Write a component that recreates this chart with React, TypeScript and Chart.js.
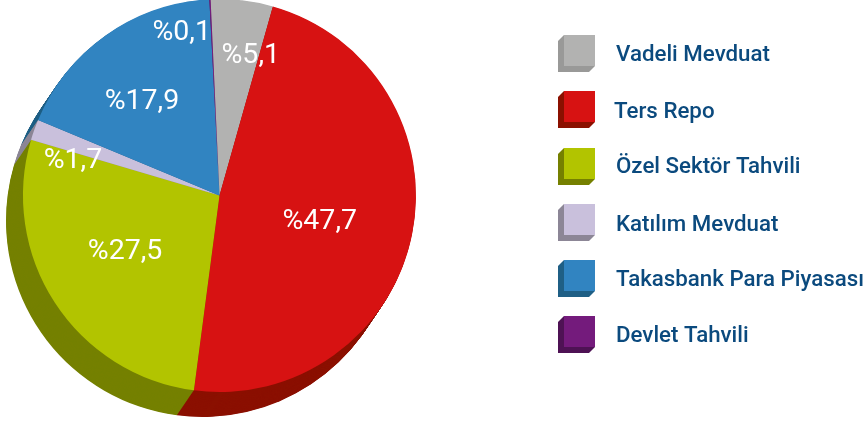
import React, { useEffect, useRef } from "react";
import { Chart, registerables } from "chart.js";

Chart.register(...registerables);

const categories = ["Vadeli Mevduat", "Ters Repo", "Özel Sektör Tahvili", "Katılım Mevduat", "Takasbank Para Piyasası", "Devlet Tahvili"];
const values = [5.1, 47.7, 27.5, 1.7, 17.9, 0.1];
const valueLabels = ["%5,1", "%47,7", "%27,5", "%1,7", "%17,9", "%0,1"];
const faceColors = ["#B2B2B1", "#D71212", "#B2C400", "#C9C0DC", "#3184C1", "#741B7C"];
const sideColors = ["#999998", "#8B1000", "#758000", "#8C8696", "#1F5F85", "#4E1254"];

// label nudges from each slice's centre point, in px
const labelNudges = [[20, -42], [4, 7], [-12, 3], [-54, -2], [-21, -13], [-33, -64]];
const legendTextX = [616, 614, 616, 616, 616, 616];
const legendTextY = [55, 112, 167, 225, 280, 336];
const legendBoxY = [35, 91, 148, 204, 260, 316];

const DEPTH_X = -17;
const DEPTH_Y = 25;

const extrude = {
  id: "extrude",
  beforeDatasetsDraw(chart: any) {
    const ctx = chart.ctx;
    const arcs = chart.getDatasetMeta(0).data;
    const steps = 40;
    for (let s = steps; s >= 1; s--) {
      const dx = (DEPTH_X * s) / steps;
      const dy = (DEPTH_Y * s) / steps;
      arcs.forEach((a: any, i: number) => {
        const p = a.getProps(["x", "y", "startAngle", "endAngle", "outerRadius"], true);
        ctx.beginPath();
        ctx.moveTo(p.x + dx, p.y + dy);
        ctx.arc(p.x + dx, p.y + dy, p.outerRadius, p.startAngle, p.endAngle);
        ctx.closePath();
        ctx.fillStyle = sideColors[i];
        ctx.fill();
      });
    }
  },
};

const overlay = {
  id: "overlay",
  afterDatasetsDraw(chart: any) {
    const ctx = chart.ctx;
    const arcs = chart.getDatasetMeta(0).data;
    ctx.save();
    ctx.textBaseline = "middle";
    ctx.textAlign = "center";
    ctx.fillStyle = "#FFFFFF";
    ctx.font = "400 28.5px Roboto";
    arcs.forEach((a: any, i: number) => {
      const c = a.getCenterPoint();
      ctx.fillText(valueLabels[i], c.x + labelNudges[i][0], c.y + labelNudges[i][1]);
    });
    categories.forEach((name, i) => {
      const x = 564;
      const y = legendBoxY[i];
      const w = 31;
      const d = 6;
      ctx.fillStyle = sideColors[i];
      ctx.beginPath();
      ctx.moveTo(x - d, y + d);
      ctx.lineTo(x, y);
      ctx.lineTo(x + w, y + w);
      ctx.lineTo(x + w - d, y + w + d);
      ctx.lineTo(x - d, y + w + d);
      ctx.closePath();
      ctx.fill();
      ctx.fillStyle = faceColors[i];
      ctx.fillRect(x, y, w, w);
      ctx.textAlign = "left";
      ctx.fillStyle = "#0B4A7E";
      ctx.font = "500 22.3px Roboto";
      ctx.fillText(name, legendTextX[i], legendTextY[i]);
    });
    ctx.restore();
  },
};

export default function App() {
  const ref = useRef<HTMLCanvasElement>(null);
  useEffect(() => {
    const chart = new Chart(ref.current!, {
      type: "pie",
      data: {
        labels: categories,
        datasets: [{ data: values, backgroundColor: faceColors, borderWidth: 0 }],
      },
      options: {
        animation: false,
        responsive: false,
        rotation: -2.6,
        radius: 196.5,
        layout: { padding: { left: 0, top: 0, right: 426, bottom: 34 } },
        plugins: { legend: { display: false }, tooltip: { enabled: false } },
      },
      plugins: [extrude, overlay],
    } as any);
    return () => chart.destroy();
  }, []);
  return (
    <canvas
      ref={ref}
      width={865}
      height={425}
      style={{ position: "absolute", left: 0, top: 0, width: 865, height: 425 }}
    />
  );
}
